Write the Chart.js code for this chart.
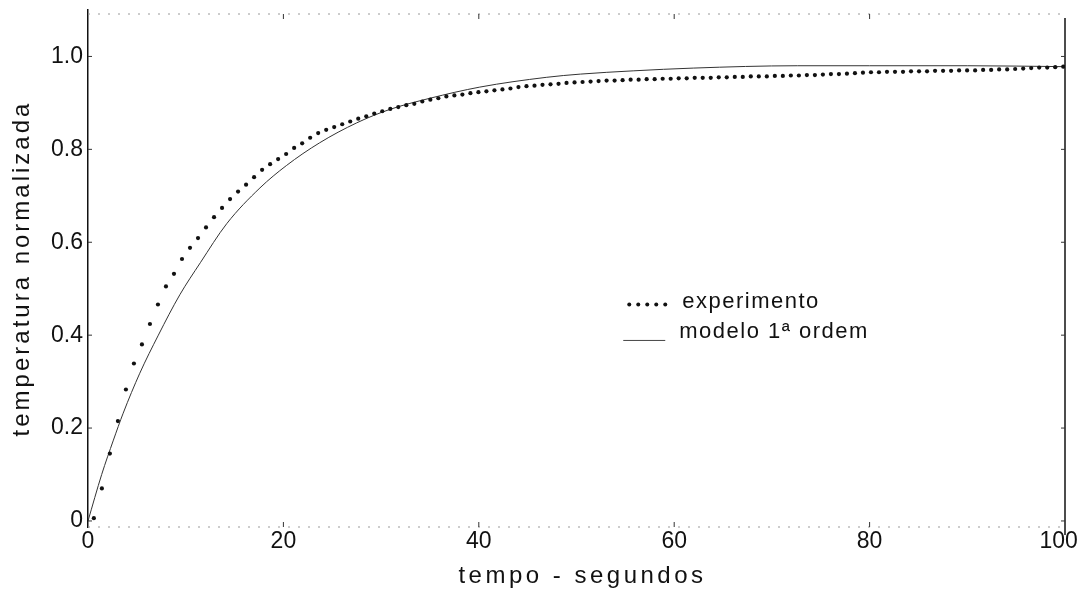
<!DOCTYPE html>
<html>
<head>
<meta charset="utf-8">
<script src="https://cdn.jsdelivr.net/npm/chart.js@4"></script>
<style>
  html, body { margin: 0; background: #fff; }
</style>
</head>
<body>
<canvas id="myChart" width="1078" height="613"></canvas>
<script>
'use strict';

// EXPERIMENT - one reading every ~0.82 s starting at 0.6 s
let expStart = 0.6;
let expStep = 0.82;
let expTemp = [
  0.006, 0.070, 0.145, 0.215, 0.283, 0.339, 0.380, 0.424, 0.466, 0.505,
  0.532, 0.564, 0.588, 0.609, 0.632, 0.654, 0.674, 0.693, 0.709, 0.724,
  0.740, 0.756, 0.768, 0.779, 0.790, 0.803, 0.813, 0.825, 0.835, 0.842,
  0.848, 0.854, 0.860, 0.866, 0.871, 0.877, 0.882, 0.887, 0.891, 0.895,
  0.898, 0.903, 0.907, 0.910, 0.914, 0.916, 0.918, 0.921, 0.923, 0.925,
  0.927, 0.929, 0.931, 0.934, 0.936, 0.937, 0.939, 0.940, 0.941, 0.943,
  0.944, 0.945, 0.946, 0.947, 0.948, 0.948, 0.949, 0.950, 0.950, 0.951,
  0.951, 0.952, 0.952, 0.953, 0.953, 0.954, 0.954, 0.954, 0.955, 0.955,
  0.956, 0.956, 0.957, 0.957, 0.957, 0.958, 0.958, 0.959, 0.959, 0.960,
  0.960, 0.961, 0.962, 0.962, 0.963, 0.964, 0.965, 0.966, 0.966, 0.967,
  0.967, 0.967, 0.968, 0.968, 0.968, 0.969, 0.969, 0.969, 0.970, 0.970,
  0.970, 0.971, 0.971, 0.972, 0.972, 0.973, 0.974, 0.975, 0.976, 0.976,
  0.977, 0.978
];

// MODEL (1st order)
let modelTime = [0, 1.4, 2.6, 3.6, 5.3, 7.2, 9.4, 11.5, 14.2, 17.6, 20.3, 23.7, 27.5, 30.9, 35.0, 40.1, 46.9, 50.4, 55.8, 62, 72.6, 80, 90, 100];
let modelTemp = [0, 0.100, 0.174, 0.232, 0.318, 0.400, 0.487, 0.556, 0.640, 0.717, 0.765, 0.814, 0.857, 0.886, 0.910, 0.934, 0.955, 0.962, 0.969, 0.975, 0.980, 0.980, 0.980, 0.978];

// TICKS
let xTicks = [0, 20, 40, 60, 80, 100];
let xTickLabels = ['0', '20', '40', '60', '80', '100  '];
let yTicks = [0, 0.2, 0.4, 0.6, 0.8, 1.0];
let yTickLabels = ['0', '0.2', '0.4', '0.6', '0.8', '1.0'];

let expPoints = [];
for (let i = 0; i < expTemp.length; i++) {
  expPoints.push({ x: expStart + i * expStep, y: expTemp[i] });
}
let modelPoints = [];
for (let i = 0; i < modelTime.length; i++) {
  modelPoints.push({ x: modelTime[i], y: modelTemp[i] });
}

const font = 'Liberation Sans, Arial, Helvetica, sans-serif';

// frame: right axis, dotted top/bottom edges and the little inward ticks
const framePlugin = {
  id: 'frame',
  afterDatasetsDraw(chart) {
    const ctx = chart.ctx;
    const a = chart.chartArea;
    const xs = chart.scales.x;
    const ys = chart.scales.y;
    ctx.save();
    ctx.strokeStyle = '#111';
    ctx.lineWidth = 1.5;
    ctx.beginPath();
    ctx.moveTo(a.right, a.top + 8);
    ctx.lineTo(a.right, a.bottom + 8);
    ctx.stroke();

    ctx.strokeStyle = '#999';
    ctx.lineWidth = 1;
    ctx.setLineDash([2, 8]);
    ctx.beginPath();
    ctx.moveTo(a.left, a.top + 4);
    ctx.lineTo(a.right, a.top + 4);
    ctx.moveTo(a.left, a.bottom);
    ctx.lineTo(a.right, a.bottom);
    ctx.stroke();
    ctx.setLineDash([]);

    ctx.strokeStyle = '#333';
    for (let i = 0; i < yTicks.length; i++) {
      let py = ys.getPixelForValue(yTicks[i]);
      ctx.beginPath();
      ctx.moveTo(a.left, py); ctx.lineTo(a.left + 4, py);
      ctx.moveTo(a.right, py); ctx.lineTo(a.right - 4, py);
      ctx.stroke();
    }
    for (let i = 1; i < xTicks.length - 1; i++) {
      let px = xs.getPixelForValue(xTicks[i]);
      ctx.beginPath();
      ctx.moveTo(px, a.bottom); ctx.lineTo(px, a.bottom - 5);
      ctx.moveTo(px, a.top + 4); ctx.lineTo(px, a.top + 9);
      ctx.stroke();
    }
    ctx.restore();
  }
};

// axis titles (spaced out like the original print) and the legend inside the plot
const textPlugin = {
  id: 'texts',
  afterDatasetsDraw(chart) {
    const ctx = chart.ctx;
    const a = chart.chartArea;
    const xs = chart.scales.x;
    const ys = chart.scales.y;
    ctx.save();
    ctx.fillStyle = '#111';
    ctx.font = '24px ' + font;
    ctx.textAlign = 'center';
    ctx.textBaseline = 'middle';
    ctx.letterSpacing = '3.5px';
    ctx.fillText('tempo - segundos', (a.left + a.right) / 2 + 6, 576);
    ctx.save();
    ctx.translate(22, (a.top + a.bottom) / 2);
    ctx.rotate(-Math.PI / 2);
    ctx.letterSpacing = '3px';
    ctx.fillText('temperatura normalizada', 0, 0);
    ctx.restore();

    let x0 = xs.getPixelForValue(55.4);
    let y1 = ys.getPixelForValue(0.468);
    let y2 = ys.getPixelForValue(0.408);
    for (let i = 0; i < 5; i++) {
      ctx.beginPath();
      ctx.arc(x0 + i * 9, y1 + 1, 2, 0, Math.PI * 2);
      ctx.fill();
    }
    ctx.strokeStyle = '#444';
    ctx.lineWidth = 1;
    ctx.beginPath();
    ctx.moveTo(x0 - 6, y2 + 9);
    ctx.lineTo(x0 + 36, y2 + 9);
    ctx.stroke();
    ctx.font = '22px ' + font;
    ctx.textAlign = 'left';
    ctx.letterSpacing = '1.5px';
    ctx.fillText('experimento', x0 + 53, y1 - 2);
    ctx.fillText('modelo 1ª ordem', x0 + 50, y2);
    ctx.restore();
  }
};

function noPad(scale) {
  scale.paddingLeft = 0;
  scale.paddingRight = 0;
  scale.paddingTop = 0;
  scale.paddingBottom = 0;
}

const ctx = document.getElementById('myChart');
const myChart = new Chart(ctx, {
  type: 'scatter',
  data: {
    datasets: [
      {
        label: 'experimento',
        data: expPoints,
        showLine: false,
        pointRadius: 2.1,
        pointBackgroundColor: '#111',
        pointBorderWidth: 0
      },
      {
        label: 'modelo 1ª ordem',
        data: modelPoints,
        showLine: true,
        borderColor: '#333',
        borderWidth: 1,
        pointRadius: 0,
        cubicInterpolationMode: 'monotone'
      }
    ]
  },
  options: {
    responsive: false,
    animation: false,
    devicePixelRatio: 1,
    layout: { padding: { top: 10, right: 13, left: 0, bottom: 0 } },
    plugins: {
      legend: { display: false },
      tooltip: { enabled: false }
    },
    scales: {
      x: {
        type: 'linear',
        min: 0,
        max: 100,
        afterBuildTicks: s => { s.ticks = xTicks.map(v => ({ value: v })); },
        afterFit: s => { s.height = 86; noPad(s); },
        grid: { display: false, drawTicks: false },
        border: { display: false },
        ticks: {
          color: '#111',
          padding: 1,
          font: { family: font, size: 23 },
          maxRotation: 0,
          callback: (v, i) => xTickLabels[i]
        }
      },
      y: {
        min: -0.013,
        max: 1.1,
        afterBuildTicks: s => { s.ticks = yTicks.map(v => ({ value: v })); },
        afterFit: s => { s.width = 88; noPad(s); },
        grid: { display: false, drawTicks: false },
        border: { display: true, color: '#111', width: 1.5 },
        ticks: {
          color: '#111',
          padding: 5,
          font: { family: font, size: 23 },
          callback: (v, i) => yTickLabels[i]
        }
      }
    }
  },
  plugins: [framePlugin, textPlugin]
});
</script>
</body>
</html>
